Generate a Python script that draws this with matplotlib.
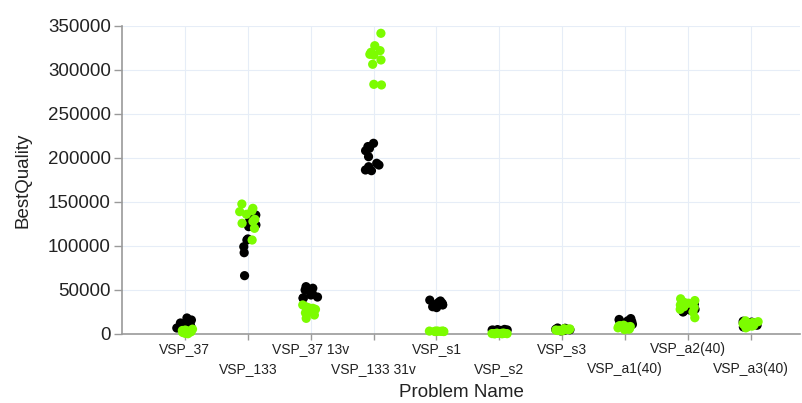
"""
Best quality reached per problem instance, two solver runs plotted as
jittered strips (black first, green on top).
"""

import numpy as np
import matplotlib
matplotlib.use('Agg')
import matplotlib.pyplot as plt

plt.rcParams['font.family'] = ['Liberation Sans', 'DejaVu Sans']

problems = [
    'VSP_37', 'VSP_133', 'VSP_37 13v', 'VSP_133 31v', 'VSP_s1',
    'VSP_s2', 'VSP_s3', 'VSP_a1(40)', 'VSP_a2(40)', 'VSP_a3(40)'
]

# best quality per run, black series
black_runs = [
    [18200, 15900, 13600, 12500, 10200, 8000, 6800, 11400, 14800, 9100],
    [66300, 92400, 99200, 106800, 108000, 122000, 123900, 125800, 130000, 135200],
    [53800, 50000, 45500, 40500, 41000, 44300, 48100, 42000, 52000, 46500],
    [216700, 211000, 208300, 201500, 194000, 190100, 185600, 186400, 192000, 213000],
    [31000, 33000, 34000, 35000, 36000, 37500, 38500, 32000, 30000, 33500],
    [3000, 4000, 4500, 5000, 3500, 4200, 5200, 3800, 4600, 2800],
    [4000, 5000, 6500, 5500, 4500, 6000, 3500, 5200, 4800, 6800],
    [10000, 12000, 13500, 15000, 16500, 17500, 11000, 14000, 12500, 15500],
    [25000, 28000, 30000, 32000, 34000, 27000, 29000, 33000, 31000, 26000],
    [8000, 10000, 12000, 13500, 9000, 11000, 14500, 10500, 12500, 9500],
]

# best quality per run, green series
green_runs = [
    [5500, 3500, 1500, 800, 2500, 4000, 1000, 300, 2000, 4500],
    [106800, 120100, 125800, 130300, 139000, 140100, 142800, 147700, 136000, 128000],
    [33000, 29200, 28000, 25400, 21600, 17800, 31000, 26500, 24000, 30000],
    [341700, 327600, 320100, 317800, 311400, 306500, 283000, 283700, 317000, 322000],
    [3000, 3200, 2800, 3400, 3100, 2900, 3300, 3000, 3200, 2800],
    [500, 800, 300, 1000, 600, 400, 900, 700, 200, 500],
    [4000, 5000, 5500, 4500, 6000, 3500, 5200, 4800, 4200, 5800],
    [5000, 6500, 8000, 9500, 7000, 10000, 6000, 8500, 5500, 9000],
    [18500, 25000, 30000, 35000, 38000, 40000, 33000, 28000, 36000, 31000],
    [7000, 9000, 11000, 13000, 15000, 10000, 12000, 8500, 14000, 11500],
]

y_ticks = [0, 50000, 100000, 150000, 200000, 250000, 300000, 350000]

rng = np.random.default_rng(7)

fig = plt.figure(figsize=(8.03, 4.03), dpi=100)
ax = fig.add_axes([122 / 803, 69 / 403, 678 / 803, 308 / 403])

for runs, color in [(black_runs, 'black'), (green_runs, '#7cfc00')]:
    for i, vals in enumerate(runs):
        xs = i + rng.uniform(-0.13, 0.13, len(vals))
        ax.scatter(xs, vals, s=44, color=color, edgecolors='none',
                   clip_on=False, zorder=3)

ax.set_xlim(-1, 9.78)
ax.set_ylim(0, 350000)
ax.set_yticks(y_ticks)
ax.set_yticklabels([str(t) for t in y_ticks])
ax.set_xticks(range(len(problems)))
ax.set_xticklabels(problems)

# stagger the category names on two rows
for i, tick in enumerate(ax.xaxis.get_major_ticks()):
    tick.set_pad(2 if i % 2 == 0 else 16)

ax.grid(True, color='#e6edf7', linewidth=0.8, zorder=0)
ax.set_axisbelow(True)

for side in ['top', 'right']:
    ax.spines[side].set_visible(False)
for side in ['left', 'bottom']:
    ax.spines[side].set_color('#9a9a9a')
    ax.spines[side].set_linewidth(1.2)

ax.tick_params(axis='y', labelsize=13.5, colors='#9a9a9a', labelcolor='#222222',
               length=6, width=1, pad=2)
ax.tick_params(axis='x', labelsize=10, colors='#9a9a9a', labelcolor='#222222',
               length=4, width=1)

ax.set_ylabel('BestQuality', fontsize=13.5, color='#222222', labelpad=12)
ax.set_xlabel('Problem Name', fontsize=13.5, color='#222222', labelpad=6)

plt.savefig('out.png', dpi=100)
